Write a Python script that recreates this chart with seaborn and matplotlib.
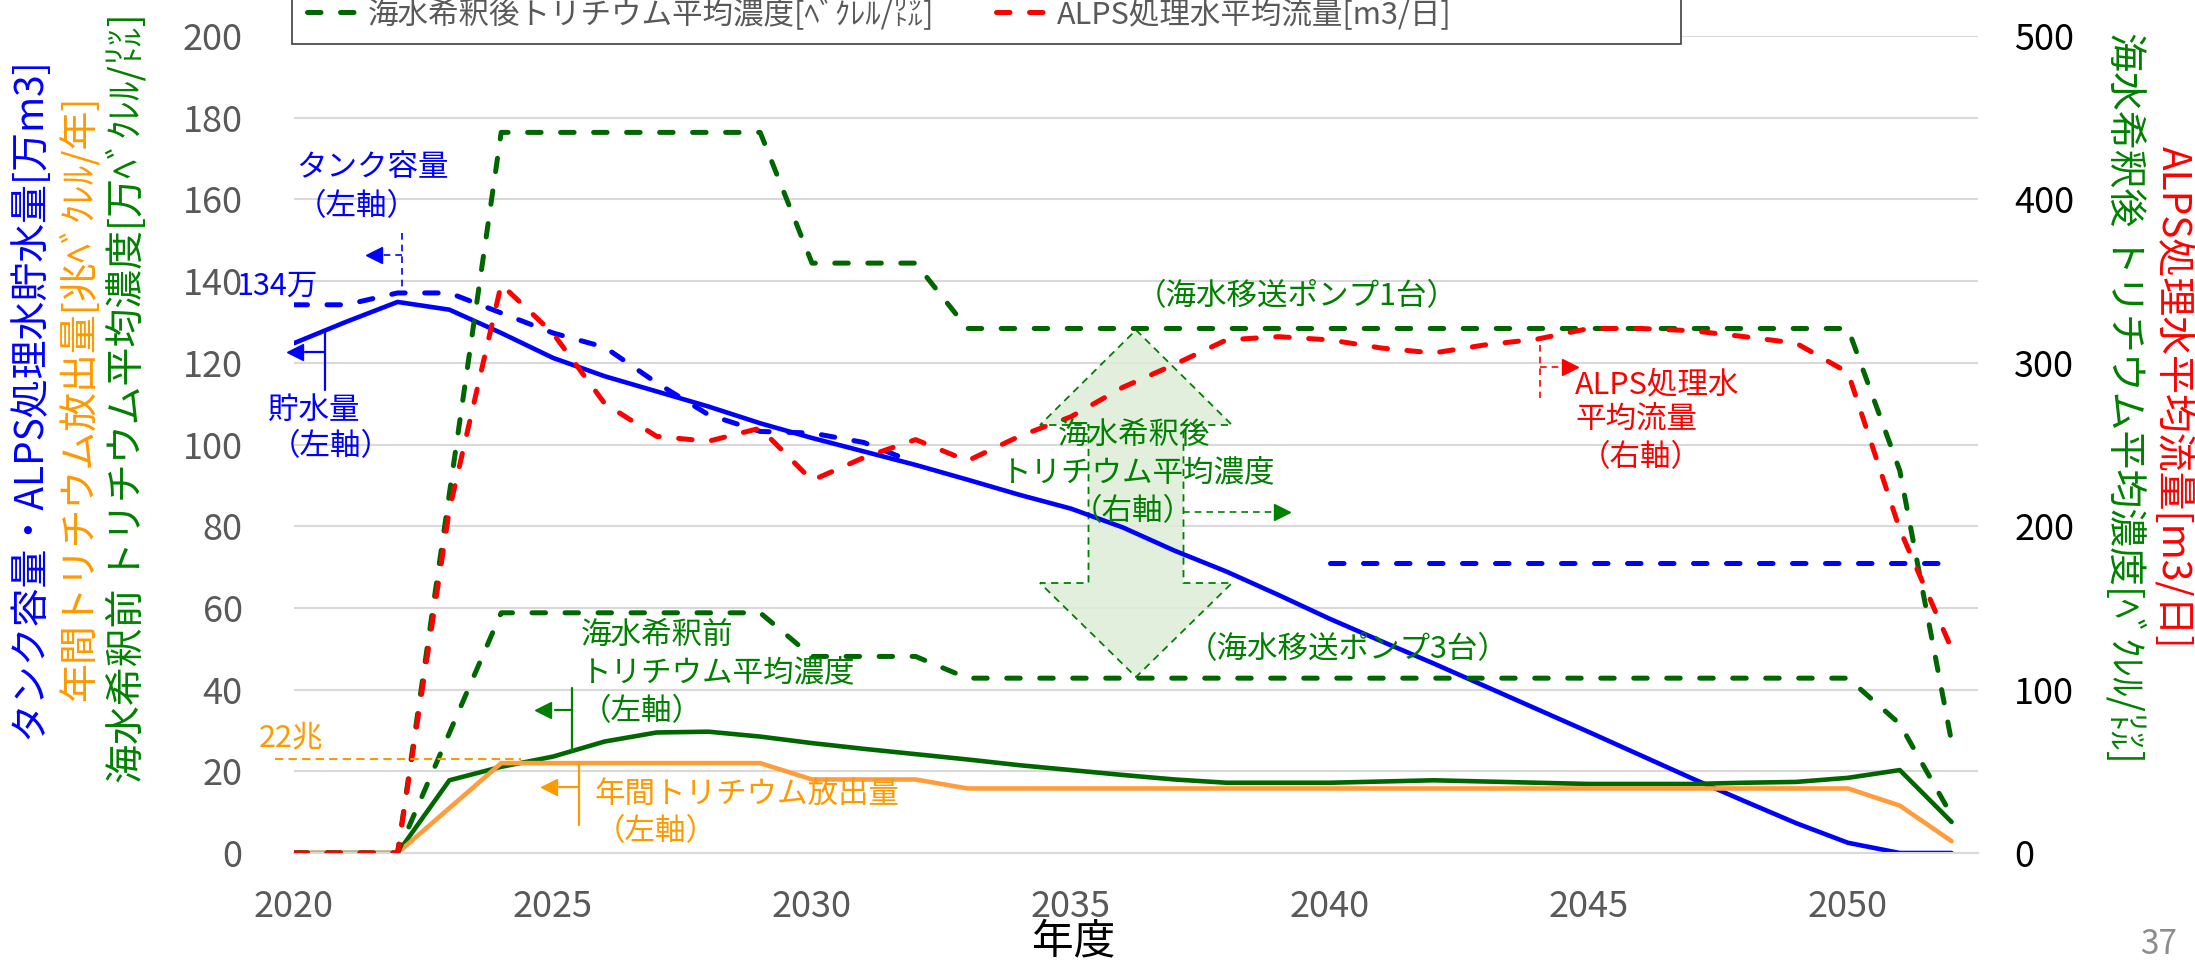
import matplotlib
matplotlib.use("Agg")
import matplotlib.pyplot as plt
from matplotlib.transforms import Affine2D
from matplotlib.patches import Polygon, Rectangle
from matplotlib.lines import Line2D
import numpy as np
import pandas as pd
import seaborn as sns

# ---------------- data ----------------
years = list(range(2020, 2053))

# 貯水量 [万m3] (left axis)
storage = [124.8, 130.0, 134.9, 133.0, 127.3, 121.2, 116.7, 113.0, 109.3, 105.2,
           101.6, 98.3, 95.0, 91.4, 87.7, 84.3, 79.7, 74.0, 68.9, 63.2,
           57.3, 51.8, 46.4, 40.8, 35.2, 29.6, 23.9, 18.2, 12.7, 7.3,
           2.5, 0.0, 0.0]
# タンク容量 [万m3] (left axis), gap 2033-2039
tank_capacity = [134.2, 134.2, 137.1, 137.1, 132.2, 127.3, 123.8, 115.1, 107.3, 103.2,
                 102.8, 100.5, 95.5, None, None, None, None, None, None, None,
                 71.1, 71.1, 71.1, 71.1, 71.1, 71.1, 71.1, 71.1, 71.1, 71.1,
                 71.1, 71.1, 71.1]
# 年間トリチウム放出量 [兆ベクレル/年] (left axis)
release = [0.0, 0.0, 0.0, 11.0, 22.0, 22.0, 22.0, 22.0, 22.0, 22.0,
           18.0, 18.0, 18.0, 15.8, 15.8, 15.8, 15.8, 15.8, 15.8, 15.8,
           15.8, 15.8, 15.8, 15.8, 15.8, 15.8, 15.8, 15.8, 15.8, 15.8,
           15.8, 11.6, 2.9]
# 海水希釈前トリチウム平均濃度 [万ベクレル/リットル] (left axis)
conc_before = [0.0, 0.0, 0.0, 17.8, 21.1, 23.6, 27.3, 29.5, 29.7, 28.5,
               26.9, 25.5, 24.2, 22.9, 21.5, 20.3, 19.1, 18.0, 17.2, 17.2,
               17.2, 17.5, 17.8, 17.5, 17.2, 16.9, 16.9, 16.9, 17.2, 17.4,
               18.4, 20.3, 7.6]
# 海水希釈後トリチウム平均濃度 [ベクレル/リットル] (right axis), pump x1
conc_after_pump1 = [0.0, 0.0, 0.0, 220.0, 441.0, 441.0, 441.0, 441.0, 441.0, 441.0,
                    361.0, 361.0, 361.0, 321.0, 321.0, 321.0, 321.0, 321.0, 321.0, 321.0,
                    321.0, 321.0, 321.0, 321.0, 321.0, 321.0, 321.0, 321.0, 321.0, 321.0,
                    321.0, 234.0, 68.0]
# 海水希釈後 (right axis), pump x3
conc_after_pump3 = [0.0, 0.0, 0.0, 73.5, 147.0, 147.0, 147.0, 147.0, 147.0, 147.0,
                    120.3, 120.3, 120.3, 107.0, 107.0, 107.0, 107.0, 107.0, 107.0, 107.0,
                    107.0, 107.0, 107.0, 107.0, 107.0, 107.0, 107.0, 107.0, 107.0, 107.0,
                    107.0, 79.0, 23.0]
# ALPS処理水平均流量 [m3/日] (right axis)
alps_flow = [0.0, 0.0, 0.0, 210.0, 348.0, 318.0, 275.0, 255.0, 252.0, 260.0,
             228.0, 242.0, 253.0, 240.0, 255.0, 267.0, 285.0, 299.0, 314.0, 316.0,
             314.0, 309.0, 306.0, 311.0, 314.5, 321.0, 321.0, 319.6, 316.0, 312.0,
             294.0, 198.0, 125.0]

left_ticks = list(range(0, 201, 20))
right_ticks = list(range(0, 501, 100))
x_ticks = [2020, 2025, 2030, 2035, 2040, 2045, 2050]
minor_x_ticks = list(range(2020, 2052))

legend_labels = ["海水希釈後トリチウム平均濃度[ﾍﾞｸﾚﾙ/㍑]", "ALPS処理水平均流量[m3/日]"]

# ---------------- style ----------------
sns.set_style("white")
plt.rcParams['font.family'] = ['Noto Sans CJK JP', 'DejaVu Sans']
plt.rcParams['axes.unicode_minus'] = False

BLUE = '#0000FF'
RED = '#FF0000'
DKGREEN = '#006600'
TXTGREEN = '#008000'
ORANGE_LINE = '#FF9D3C'
ORANGE_TXT = '#FF9900'
GRID = '#D9D9D9'
GREYTXT = '#595959'
DASH = (2.7, 3.9)
LW_SOLID = 3.3
LW_DASH = 3.6

W, H = 2195, 963
fig = plt.figure(figsize=(W / 100, H / 100), dpi=100, facecolor='white')
ax = fig.add_axes([294 / W, 1 - 853 / H, (1978 - 294) / W, (853 - 36) / H])
ax2 = ax.twinx()

# pixel (from top-left of image) -> figure transform for annotations
T = Affine2D().scale(1 / W, -1 / H).translate(0, 1) + fig.transFigure


def draw(axis, x, y, color, lw, dashed=False):
    sns.lineplot(x=list(x), y=list(y), ax=axis, color=color, linewidth=lw, legend=False)
    ln = axis.lines[-1]
    if dashed:
        ln.set_dashes(DASH)
        ln.set_dash_capstyle('round')
    ln.set_solid_joinstyle('round')
    return ln


# left axis series
draw(ax, years, storage, BLUE, LW_SOLID)
tank = pd.Series(tank_capacity, index=years, dtype=float)
groups = tank.isna().cumsum()
for _, seg_s in tank.dropna().groupby(groups[tank.notna()]):
    draw(ax, seg_s.index, seg_s.values, BLUE, LW_DASH, dashed=True)
draw(ax, years, conc_before, DKGREEN, LW_SOLID)
draw(ax, years, release, ORANGE_LINE, LW_SOLID)

# right axis series
h_after1 = draw(ax2, years, conc_after_pump1, DKGREEN, LW_DASH, dashed=True)
draw(ax2, years, conc_after_pump3, DKGREEN, LW_DASH, dashed=True)
h_flow = draw(ax2, years, alps_flow, RED, LW_DASH, dashed=True)

# ---------------- axes styling ----------------
for a in (ax, ax2):
    for s in a.spines.values():
        s.set_visible(False)
ax.spines['bottom'].set_visible(True)
ax.spines['bottom'].set_color(GRID)
ax.spines['bottom'].set_linewidth(1.5)

ax.set_axisbelow(True)
ax.yaxis.grid(True, color=GRID, linewidth=1.5)
ax.xaxis.grid(False)

ax.set_yticks(left_ticks)
ax.set_xticks(x_ticks)
ax.set_xticks(minor_x_ticks, minor=True)
ax.tick_params(axis='y', length=0, pad=37, labelsize=26, labelcolor=GREYTXT)
ax.tick_params(axis='x', which='both', direction='in', length=9.4, width=1.1,
               color=GRID, pad=26, labelsize=26, labelcolor=GREYTXT)
ax2.set_yticks(right_ticks)
ax2.tick_params(axis='y', length=0, pad=26, labelsize=26, labelcolor='black')
ax.set_xlabel('')
ax.set_ylabel('')
ax2.set_ylabel('')

# ---------------- annotations ----------------
def txt(x, y, s, color, size=22, ha='left', va='center'):
    ax2.text(x, y, s, transform=T, color=color, fontsize=size, ha=ha, va=va, zorder=12)


def seg(xs, ys, color, lw=1.2, ls='-'):
    ln = Line2D(xs, ys, transform=T, color=color, lw=lw, ls=ls, zorder=11)
    ln.set_clip_on(False)
    ax2.add_line(ln)


def head(x, y, direction, color, ms=12):
    off = ms * 100 / 72 / 2
    cx = x + off if direction == 'left' else x - off
    mk = '<' if direction == 'left' else '>'
    ln = Line2D([cx], [y], transform=T, marker=mk, ms=ms, color=color, lw=0, zorder=11)
    ln.set_clip_on(False)
    ax2.add_line(ln)


FINE = (0, (4, 3))

# big double arrow (海水希釈後)
cx = 1136
arrow_pts = [(cx, 330), (cx + 96, 425), (cx + 47.5, 425), (cx + 47.5, 583),
             (cx + 96, 583), (cx, 677), (cx - 96, 583), (cx - 47.5, 583),
             (cx - 47.5, 425), (cx - 96, 425)]
poly = Polygon(arrow_pts, closed=True, transform=T, facecolor=(0.875, 0.93, 0.845, 0.85),
               edgecolor=TXTGREEN, lw=1.3, ls=FINE, zorder=1.5)
poly.set_clip_on(False)
ax.add_patch(poly)

# タンク容量
txt(296, 168, "タンク容量", BLUE)
txt(296, 207, "（左軸）", BLUE)
seg([402, 402], [233, 293], BLUE, ls=FINE)
seg([402, 383], [255, 255], BLUE, ls=FINE)
head(366, 255, 'left', BLUE)
txt(277, 286, "134万", BLUE, ha='center')

# 貯水量
txt(268, 410, "貯水量", BLUE)
txt(270, 447, "（左軸）", BLUE)
seg([325, 325], [332, 390], BLUE, lw=1.6)
seg([325, 305], [352, 352], BLUE, lw=1.6)
head(287, 352, 'left', BLUE)

# 22兆
txt(291, 738, "22兆", ORANGE_TXT, ha='center')
seg([275, 521], [758.7, 758.7], ORANGE_TXT, lw=1.5, ls=(0, (4, 2.5)))

# 海水希釈前
txt(581, 635, "海水希釈前", TXTGREEN)
txt(581, 673, "トリチウム平均濃度", TXTGREEN)
txt(581, 712, "（左軸）", TXTGREEN)
seg([572, 572], [688, 750], TXTGREEN, lw=1.6)
seg([572, 555], [710, 710], TXTGREEN, lw=1.6)
head(535, 710, 'left', TXTGREEN)

# 年間トリチウム放出量
txt(595, 794, "年間トリチウム放出量", ORANGE_TXT)
txt(595, 832, "（左軸）", ORANGE_TXT)
seg([579, 579], [763, 825], ORANGE_TXT, lw=1.6)
seg([579, 559], [787, 787], ORANGE_TXT, lw=1.6)
head(541, 787, 'left', ORANGE_TXT)

# pumps
txt(1297, 297, "（海水移送ポンプ1台）", TXTGREEN, ha='center')
txt(1348, 650, "（海水移送ポンプ3台）", TXTGREEN, ha='center')

# 海水希釈後 label inside arrow
txt(1134, 435, "海水希釈後", TXTGREEN, ha='center')
txt(1138, 473, "トリチウム平均濃度", TXTGREEN, ha='center')
txt(1133, 512, "（右軸）", TXTGREEN, ha='center')
seg([1183, 1274], [511.7, 511.7], TXTGREEN, ls=FINE)
head(1290, 511.7, 'right', TXTGREEN)

# ALPS処理水
txt(1575, 385, "ALPS処理水", RED)
txt(1575, 420, "平均流量", RED)
txt(1580, 458, "（右軸）", RED)
seg([1540, 1540], [345, 398], RED, ls=FINE)
seg([1540, 1562], [367, 367], RED, ls=FINE)
head(1578, 367, 'right', RED)

# ---------------- axis titles ----------------
fig.text(29 / W, 1 - 398 / H, "タンク容量・ALPS処理水貯水量[万m3]", rotation=90,
         color=BLUE, fontsize=28, ha='center', va='center')
fig.text(79 / W, 1 - 398 / H, "年間トリチウム放出量[兆ﾍﾞｸﾚﾙ/年]", rotation=90,
         color=ORANGE_TXT, fontsize=28, ha='center', va='center')
fig.text(127 / W, 1 - 398 / H, "海水希釈前 トリチウム平均濃度[万ﾍﾞｸﾚﾙ/㍑]", rotation=90,
         color=TXTGREEN, fontsize=28, ha='center', va='center')
fig.text(2125 / W, 1 - 397 / H, "海水希釈後 トリチウム平均濃度[ﾍﾞｸﾚﾙ/㍑]", rotation=-90,
         color=TXTGREEN, fontsize=28, ha='center', va='center')
fig.text(2173 / W, 1 - 397 / H, "ALPS処理水平均流量[m3/日]", rotation=-90,
         color=RED, fontsize=28, ha='center', va='center')
fig.text(1074 / W, 1 - 962 / H, "年度", fontsize=30, color='black', ha='center', va='bottom')
fig.text(2140 / W, 1 - 962 / H, "37", fontsize=24, color='#8C8C8C', ha='left', va='bottom')

# ---------------- legend ----------------
frame = Rectangle((291.5, -30), 1681 - 291.5, 74, transform=T, facecolor='white',
                  edgecolor='#404040', lw=1.2, zorder=15)
frame.set_clip_on(False)
ax2.add_patch(frame)
leg = ax2.legend(handles=[h_after1, h_flow], labels=legend_labels, ncol=2, frameon=False,
                 loc='center left', bbox_to_anchor=(307 / W, 1 - 14 / H),
                 bbox_transform=fig.transFigure, borderpad=0, borderaxespad=0,
                 handlelength=1.6, handletextpad=0.4, columnspacing=2.0,
                 prop={'size': 22}, labelcolor=GREYTXT)
leg.set_zorder(20)

# ---------------- limits ----------------
ax.set_xlim(2020, 2052.51)
ax.set_ylim(0, 200)
ax2.set_ylim(0, 500)

fig.savefig('out.png', dpi=100, facecolor='white')
